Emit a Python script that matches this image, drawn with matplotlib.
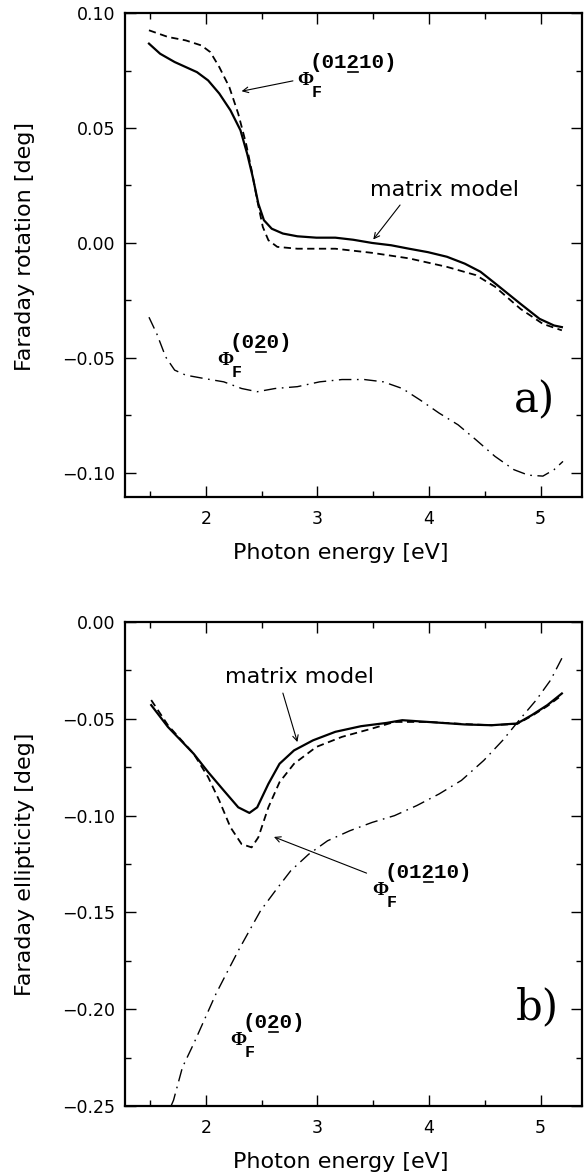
import matplotlib
matplotlib.use('Agg')
import matplotlib.pyplot as plt
from matplotlib.lines import Line2D
from matplotlib.transforms import ScaledTranslation
from matplotlib.ticker import MultipleLocator, FuncFormatter

# ---- data ----
# a) Faraday rotation [deg]
rot_matrix_x = [1.49, 1.59, 1.72, 1.92, 2.02, 2.12, 2.22, 2.31, 2.37, 2.42, 2.47, 2.52,
                2.59, 2.69, 2.82, 2.99, 3.16, 3.32, 3.49, 3.66, 3.82, 3.99, 4.16, 4.32,
                4.46, 4.59, 4.82, 4.99, 5.12, 5.19]
rot_matrix_y = [0.0867, 0.0823, 0.0787, 0.0743, 0.0707, 0.065, 0.0577, 0.049, 0.0388, 0.0287,
                0.0171, 0.0099, 0.0062, 0.0041, 0.0029, 0.0023, 0.0023, 0.0014, 0.0, -0.001,
                -0.0025, -0.004, -0.006, -0.009, -0.0125, -0.0175, -0.0265, -0.033, -0.0359,
                -0.0366]

rot_01210_x = [1.49, 1.66, 1.82, 1.96, 2.04, 2.12, 2.21, 2.29, 2.36, 2.41, 2.46, 2.51,
               2.56, 2.64, 2.82, 3.16, 3.49, 3.82, 4.16, 4.42, 4.59, 4.82, 5.02, 5.19]
rot_01210_y = [0.0925, 0.0896, 0.0881, 0.0859, 0.083, 0.0765, 0.0678, 0.0562, 0.0432, 0.0316,
               0.0186, 0.007, 0.0012, -0.0017, -0.0025, -0.0025, -0.0043, -0.0067, -0.0104,
               -0.014, -0.019, -0.0287, -0.0352, -0.038]

rot_020_x = [1.49, 1.56, 1.64, 1.72, 1.82, 1.99, 2.16, 2.32, 2.46, 2.62, 2.82, 3.02, 3.22,
             3.42, 3.59, 3.76, 3.92, 4.09, 4.26, 4.42, 4.59, 4.76, 4.89, 5.02, 5.12, 5.20]
rot_020_y = [-0.0323, -0.0395, -0.0496, -0.0553, -0.0575, -0.059, -0.0604, -0.0633, -0.0647,
             -0.0633, -0.0625, -0.0604, -0.0594, -0.0594, -0.0604, -0.0633, -0.0683, -0.074,
             -0.0791, -0.0856, -0.0928, -0.0986, -0.101, -0.1014, -0.0986, -0.095]

# b) Faraday ellipticity [deg]
ell_matrix_x = [1.51, 1.66, 1.89, 2.02, 2.16, 2.29, 2.39, 2.46, 2.56, 2.66, 2.79, 2.96, 3.16,
                3.39, 3.62, 3.76, 3.99, 4.32, 4.56, 4.79, 4.92, 5.06, 5.19]
ell_matrix_y = [-0.0429, -0.0542, -0.068, -0.0775, -0.087, -0.0957, -0.0986, -0.0957, -0.0836,
                -0.0732, -0.0663, -0.0611, -0.0567, -0.0538, -0.0521, -0.0507, -0.0516,
                -0.0529, -0.0533, -0.0524, -0.0481, -0.0429, -0.0369]

ell_01210_x = [1.51, 1.66, 1.89, 2.02, 2.12, 2.22, 2.32, 2.41, 2.47, 2.56, 2.66, 2.79, 2.99,
               3.22, 3.49, 3.69, 3.99, 4.32, 4.56, 4.79, 4.92, 5.06, 5.19]
ell_01210_y = [-0.0403, -0.0533, -0.068, -0.0801, -0.0922, -0.106, -0.1147, -0.1164, -0.1112,
               -0.0957, -0.0827, -0.0732, -0.0645, -0.0593, -0.055, -0.0516, -0.0516, -0.0527,
               -0.0533, -0.0526, -0.0485, -0.0434, -0.0378]

ell_020_x = [1.69, 1.71, 1.79, 1.89, 1.99, 2.09, 2.19, 2.29, 2.39, 2.49, 2.62, 2.76, 2.92,
             3.09, 3.29, 3.49, 3.69, 3.89, 4.09, 4.29, 4.49, 4.66, 4.82, 4.96, 5.09, 5.19]
ell_020_y = [-0.2497, -0.247, -0.23, -0.2179, -0.205, -0.1921, -0.1809, -0.1698, -0.1594,
             -0.1491, -0.139, -0.1285, -0.12, -0.113, -0.1078, -0.1035, -0.1, -0.0948, -0.0888,
             -0.0818, -0.0715, -0.0611, -0.0498, -0.0403, -0.0299, -0.0187]

sup_01210 = '(01210)'
sup_020 = '(020)'

plt.rcParams['font.family'] = ['DejaVu Sans']

fig = plt.figure(figsize=(5.84, 11.75), dpi=100)
ax1 = fig.add_axes([0.2140, 0.5770, 0.7825, 0.4119])
ax2 = fig.add_axes([0.2140, 0.0587, 0.7825, 0.4119])


def minus_fmt(v, pos):
    s = f'{v:.2f}'
    if s == '-0.00':
        s = '0.00'
    return s.replace('-', '\u2212')


def style_axes(ax, ylabel, ylab_y):
    ax.set_xlim(1.275, 5.37)
    ax.xaxis.set_major_locator(MultipleLocator(1))
    ax.xaxis.set_minor_locator(MultipleLocator(0.5))
    ax.yaxis.set_major_locator(MultipleLocator(0.05))
    ax.yaxis.set_minor_locator(MultipleLocator(0.025))
    ax.yaxis.set_major_formatter(FuncFormatter(minus_fmt))
    ax.tick_params(which='both', direction='in', top=True, right=True, labelsize=12.5, width=1.0)
    ax.tick_params(which='major', length=8)
    ax.tick_params(which='minor', length=4)
    ax.tick_params(axis='x', pad=9)
    ax.tick_params(axis='y', pad=7)
    for sp in ax.spines.values():
        sp.set_linewidth(1.6)
    ax.set_xlabel('Photon energy [eV]', fontsize=16)
    ax.xaxis.set_label_coords(0.473, -0.095)
    ax.set_ylabel(ylabel, fontsize=16)
    ax.yaxis.set_label_coords(-0.197, ylab_y)


def phi_label(ax, x, y, sup, size=15):
    # Phi with subscript F and a superscript whose "2" is underlined
    kw = dict(textcoords='offset points', ha='left', va='baseline', weight='bold')
    ax.annotate('\u03a6', (x, y), xytext=(0, 0), fontsize=14, family='Liberation Serif', **kw)
    ax.annotate('F', (x, y), xytext=(10.5, -8.5), fontsize=12, family='Liberation Mono', **kw)
    ax.annotate(sup, (x, y), xytext=(9, 12.5), fontsize=size, family='Liberation Mono', **kw)
    # underline under the "2" (monospace font: 0.6 em per character)
    i = sup.index('2')
    adv = 0.6 * size
    x0, x1 = 9 + i * adv + 1, 9 + (i + 1) * adv - 1
    trans = fig.dpi_scale_trans + ScaledTranslation(x, y, ax.transData)
    fig.add_artist(Line2D([x0 / 72, x1 / 72], [9.5 / 72, 9.5 / 72], transform=trans,
                          color='black', lw=1.2))


arrow = dict(arrowstyle='->', color='black', lw=0.8, shrinkA=0, shrinkB=0)

# ---- a) rotation ----
ax1.plot(rot_matrix_x, rot_matrix_y, color='black', lw=1.6)
ax1.plot(rot_01210_x, rot_01210_y, color='black', lw=1.3, dashes=(4, 2.5))
ax1.plot(rot_020_x, rot_020_y, color='black', lw=1.0, dashes=(9, 4, 1.2, 4))
ax1.set_ylim(-0.1105, 0.10)
style_axes(ax1, 'Faraday rotation [deg]', 0.517)

ax1.text(4.14, 0.023, 'matrix model', fontsize=16, ha='center', va='center')
ax1.annotate('', xy=(3.50, 0.0015), xytext=(3.74, 0.0165), arrowprops=arrow)
phi_label(ax1, 2.815, 0.0687, sup_01210)
ax1.annotate('', xy=(2.32, 0.066), xytext=(2.78, 0.0705), arrowprops=arrow)
phi_label(ax1, 2.10, -0.0532, sup_020)
ax1.text(4.94, -0.0683, 'a)', fontsize=30, family='DejaVu Serif', ha='center', va='center')

# ---- b) ellipticity ----
ax2.plot(ell_matrix_x, ell_matrix_y, color='black', lw=1.6)
ax2.plot(ell_01210_x, ell_01210_y, color='black', lw=1.3, dashes=(4, 2.5))
ax2.plot(ell_020_x, ell_020_y, color='black', lw=1.0, dashes=(9, 4, 1.2, 4))
ax2.set_ylim(-0.25, 0.0)
style_axes(ax2, 'Faraday ellipticity [deg]', 0.5)

ax2.text(2.84, -0.0284, 'matrix model', fontsize=16, ha='center', va='center')
ax2.annotate('', xy=(2.82, -0.062), xytext=(2.69, -0.0367), arrowprops=arrow)
phi_label(ax2, 3.49, -0.141, sup_01210)
ax2.annotate('', xy=(2.61, -0.111), xytext=(3.44, -0.1297), arrowprops=arrow)
phi_label(ax2, 2.215, -0.2185, sup_020)
ax2.text(4.97, -0.199, 'b)', fontsize=30, family='DejaVu Serif', ha='center', va='center')

fig.savefig('out.png', dpi=100)
